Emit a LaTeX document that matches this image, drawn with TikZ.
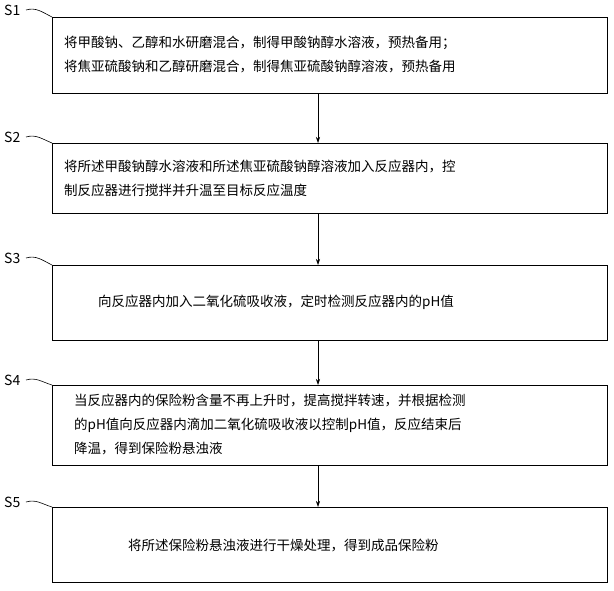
\documentclass[tikz,border=0pt]{standalone}
\usepackage{fontspec}
\setmainfont{Noto Sans CJK SC}
\usetikzlibrary{arrows.meta}
\begin{document}
\begin{tikzpicture}[x=1pt,y=-1pt,
  box/.style={draw,line width=0.8pt,minimum width=555pt,anchor=north west,inner sep=0pt,align=left},
  lab/.style={font=\fontsize{14}{14}\selectfont,anchor=west,inner sep=0pt},
  arr/.style={-{Stealth[length=6pt,width=4pt]},line width=0.6pt},
  lead/.style={line width=0.6pt}]
\useasboundingbox (0,0) rectangle (614,591);
\fill[white] (0,0) rectangle (614,591);
\node[box,minimum height=76pt] (b1) at (52,17) {};
\node[box,minimum height=70pt] (b2) at (52,143) {};
\node[box,minimum height=75pt] (b3) at (52,265) {};
\node[box,minimum height=80pt] (b4) at (52,385) {};
\node[box,minimum height=75pt] (b5) at (52,507) {};
\tikzset{txt/.style={anchor=west,align=left,font=\fontsize{13.5}{24}\selectfont,inner sep=0pt}}
\node[txt] (t1) at (64,55) {将甲酸钠、乙醇和水研磨混合，制得甲酸钠醇水溶液，预热备用；\\将焦亚硫酸钠和乙醇研磨混合，制得焦亚硫酸钠醇溶液，预热备用};
\node[txt] (t2) at (64,178) {将所述甲酸钠醇水溶液和所述焦亚硫酸钠醇溶液加入反应器内，控\\制反应器进行搅拌并升温至目标反应温度};
\node[txt] (t3) at (98,302) {向反应器内加入二氧化硫吸收液，定时检测反应器内的pH值};
\node[txt] (t4) at (74,424) {当反应器内的保险粉含量不再上升时，提高搅拌转速，并根据检测\\的pH值向反应器内滴加二氧化硫吸收液以控制pH值，反应结束后\\降温，得到保险粉悬浊液};
\node[txt] (t5) at (128,546) {将所述保险粉悬浊液进行干燥处理，得到成品保险粉};
\foreach \i/\j in {1/2,2/3,3/4,4/5} \draw[arr] (318,0|-b\i.south) -- (318,0|-b\j.north);
\foreach \i/\y in {1/10,2/137,3/258,4/380,5/502}{
  \node[lab] (s\i) at (4,\y) {S\i};
  \draw[lead] (26,\y) .. controls (36,\y-3) and (42,\y+2) .. (b\i.north west);
}
\end{tikzpicture}
\end{document}
